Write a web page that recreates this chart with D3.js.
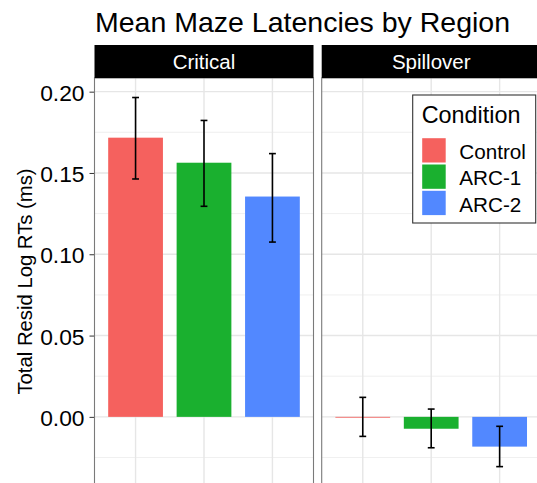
<!DOCTYPE html>
<html>
<head>
<meta charset="utf-8">
<script src="https://cdn.jsdelivr.net/npm/d3@7"></script>
<style>
  body { margin: 0; background: #fff; }
  svg { display: block; font-family: "Liberation Sans", Arial, sans-serif; }
</style>
</head>
<body>
<script>
// data
var regions = ["Critical", "Spillover"];
var conditions = ["Control", "ARC-1", "ARC-2"];
var colors = ["#F5615E", "#1AB02F", "#5288FF"];

var criticalMeans = [0.1717, 0.1563, 0.1355];
var criticalLower = [0.1463, 0.1295, 0.1075];
var criticalUpper = [0.1964, 0.1823, 0.1619];

var spilloverMeans = [-0.0005, -0.0073, -0.0183];
var spilloverLower = [-0.0120, -0.0190, -0.0306];
var spilloverUpper = [0.0120, 0.0048, -0.0058];

var yTicks = [0, 0.05, 0.10, 0.15, 0.20];
var yMinor = [-0.025, 0.025, 0.075, 0.125, 0.175];

// layout
var width = 537, height = 483;
var panelTop = 78, panelBottom = 485, panelW = 219;
var panelX = [94.5, 321.7];
var stripH = 33;

var svg = d3.select("body").append("svg")
    .attr("width", width)
    .attr("height", height);

// scales
var y = d3.scaleLinear()
    .domain([-0.0419, 0.2084])
    .range([panelBottom, panelTop]);

var x = d3.scalePoint()
    .domain(conditions)
    .range([0, panelW])
    .padding(0.6);

var step = x.step();
var color = d3.scaleOrdinal().domain(conditions).range(colors);

// build rows per region
var panels = regions.map(function(r, i) {
  var m = i == 0 ? criticalMeans : spilloverMeans,
      lo = i == 0 ? criticalLower : spilloverLower,
      hi = i == 0 ? criticalUpper : spilloverUpper;
  return {
    region: r,
    x0: panelX[i],
    rows: conditions.map(function(c, j) {
      return {cond: c, mean: m[j], lo: lo[j], hi: hi[j]};
    })
  };
});

// title
svg.append("text")
    .attr("x", 95)
    .attr("y", 31.5)
    .style("font-size", "28.5px")
    .style("fill", "#000")
    .text("Mean Maze Latencies by Region");

// y axis title
svg.append("text")
    .attr("transform", "translate(32," + (panelTop + panelBottom) / 2 + ") rotate(-90)")
    .attr("text-anchor", "middle")
    .style("font-size", "20.3px")
    .style("fill", "#000")
    .text("Total Resid Log RTs (ms)");

// y axis on left panel
var yAxis = svg.append("g")
    .attr("transform", "translate(" + panelX[0] + ",0)")
    .call(d3.axisLeft(y).tickValues(yTicks).tickFormat(d3.format(".2f")).tickSize(5).tickPadding(5));
yAxis.select(".domain").remove();
yAxis.selectAll(".tick line").attr("stroke", "#333").attr("stroke-width", 1);
yAxis.selectAll(".tick text")
    .attr("fill", "#000")
    .attr("dy", "0.37em")
    .style("font-size", "22.8px")
    .style("font-family", "Liberation Sans, Arial, sans-serif");

panels.forEach(function(p) {
  var g = svg.append("g").attr("transform", "translate(" + p.x0 + ",0)");

  // minor grid
  g.selectAll(".minor")
      .data(yMinor)
    .enter().append("line")
      .attr("x1", 0).attr("x2", panelW)
      .attr("y1", function(d) { return y(d); })
      .attr("y2", function(d) { return y(d); })
      .attr("stroke", "#EBEBEB")
      .attr("stroke-width", 0.8);

  // major grid
  g.selectAll(".hgrid")
      .data(yTicks)
    .enter().append("line")
      .attr("x1", 0).attr("x2", panelW)
      .attr("y1", function(d) { return y(d); })
      .attr("y2", function(d) { return y(d); })
      .attr("stroke", "#E6E6E6")
      .attr("stroke-width", 1.4);

  g.selectAll(".vgrid")
      .data(conditions)
    .enter().append("line")
      .attr("x1", function(d) { return x(d); })
      .attr("x2", function(d) { return x(d); })
      .attr("y1", panelTop).attr("y2", panelBottom)
      .attr("stroke", "#E6E6E6")
      .attr("stroke-width", 1.4);

  // bars
  g.selectAll(".bar")
      .data(p.rows)
    .enter().append("rect")
      .attr("x", function(d) { return x(d.cond) - step * 0.4; })
      .attr("width", step * 0.8)
      .attr("y", function(d) { return y(Math.max(0, d.mean)); })
      .attr("height", function(d) { return Math.abs(y(d.mean) - y(0)); })
      .style("fill", function(d) { return color(d.cond); });

  // error bars
  var eb = g.selectAll(".err")
      .data(p.rows)
    .enter().append("g")
      .attr("stroke", "#000")
      .attr("stroke-width", 1.6);

  eb.append("line")
      .attr("x1", function(d) { return x(d.cond); })
      .attr("x2", function(d) { return x(d.cond); })
      .attr("y1", function(d) { return y(d.lo); })
      .attr("y2", function(d) { return y(d.hi); });
  eb.append("line")
      .attr("x1", function(d) { return x(d.cond) - step * 0.05; })
      .attr("x2", function(d) { return x(d.cond) + step * 0.05; })
      .attr("y1", function(d) { return y(d.hi); })
      .attr("y2", function(d) { return y(d.hi); });
  eb.append("line")
      .attr("x1", function(d) { return x(d.cond) - step * 0.05; })
      .attr("x2", function(d) { return x(d.cond) + step * 0.05; })
      .attr("y1", function(d) { return y(d.lo); })
      .attr("y2", function(d) { return y(d.lo); });

  // panel border
  g.append("rect")
      .attr("x", 0).attr("y", panelTop)
      .attr("width", panelW).attr("height", panelBottom - panelTop)
      .attr("fill", "none")
      .attr("stroke", "#7a7a7a")
      .attr("stroke-width", 1.1);

  // strip
  g.append("rect")
      .attr("x", 0).attr("y", panelTop - stripH)
      .attr("width", panelW).attr("height", stripH)
      .attr("fill", "#000");
  g.append("text")
      .attr("x", panelW / 2)
      .attr("y", 69)
      .attr("text-anchor", "middle")
      .style("font-size", "20.5px")
      .style("fill", "#fff")
      .text(p.region);
});

// legend
var legend = svg.append("g").attr("transform", "translate(412.7,95)");
legend.append("rect")
    .attr("width", 123).attr("height", 128)
    .attr("fill", "#fff")
    .attr("stroke", "#333")
    .attr("stroke-width", 1.1);
legend.append("text")
    .attr("x", 9).attr("y", 28)
    .style("font-size", "23.4px")
    .text("Condition");

var key = legend.selectAll(".key")
    .data(conditions)
  .enter().append("g")
    .attr("transform", function(d, i) { return "translate(9," + (42.5 + i * 26.3) + ")"; });
key.append("rect")
    .attr("x", 0.5).attr("y", 0.7)
    .attr("width", 23.5).attr("height", 24.3)
    .style("fill", function(d) { return color(d); });
key.append("text")
    .attr("x", 37.5).attr("y", 21.5)
    .style("font-size", "20.7px")
    .text(function(d) { return d; });
</script>
</body>
</html>
